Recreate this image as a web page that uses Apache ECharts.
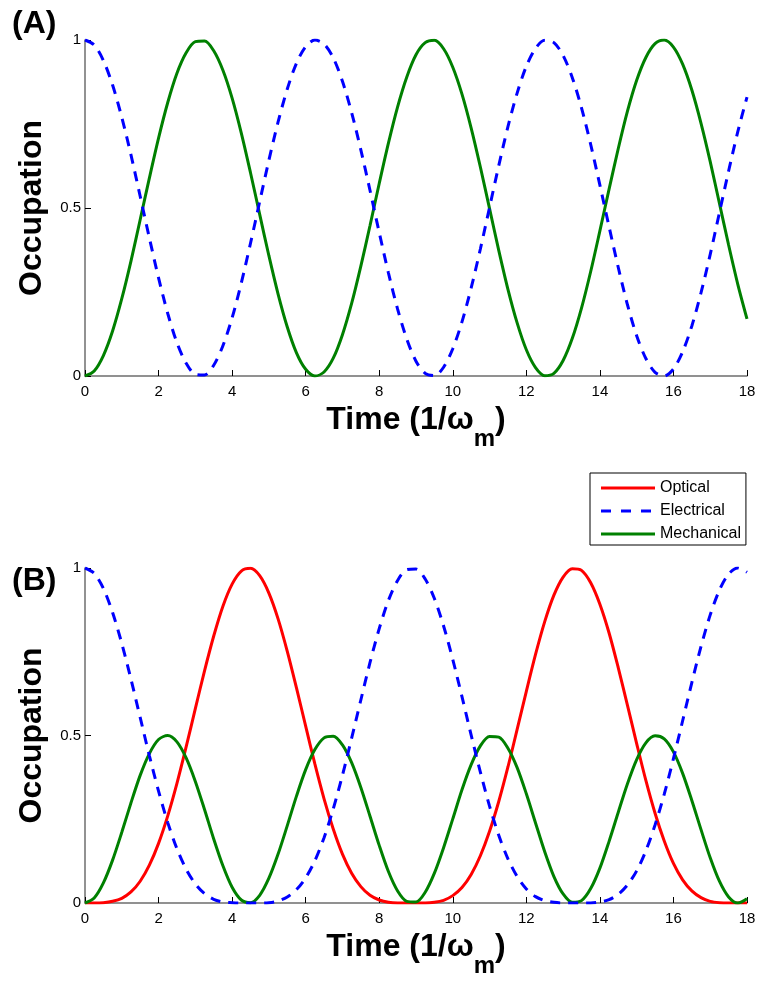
<!DOCTYPE html>
<html>
<head>
<meta charset="utf-8">
<script src="https://cdn.jsdelivr.net/npm/echarts@6/dist/echarts.min.js"></script>
<style>
html,body{margin:0;padding:0;background:#fff;}
#c{width:757px;height:982px;}
</style>
</head>
<body>
<div id="c"></div>
<script>
// Time samples (1/omega_m), step 0.25
const T = [0,0.25,0.5,0.75,1,1.25,1.5,1.75,2,2.25,2.5,2.75,3,3.25,3.5,3.75,4,4.25,4.5,4.75,5,5.25,5.5,5.75,6,6.25,6.5,6.75,7,7.25,7.5,7.75,8,8.25,8.5,8.75,9,9.25,9.5,9.75,10,10.25,10.5,10.75,11,11.25,11.5,11.75,12,12.25,12.5,12.75,13,13.25,13.5,13.75,14,14.25,14.5,14.75,15,15.25,15.5,15.75,16,16.25,16.5,16.75,17,17.25,17.5,17.75,18];

// Panel (A)
const elecA = [1.000,0.985,0.939,0.866,0.770,0.658,0.535,0.411,0.292,0.186,0.099,0.038,0.005,0.003,0.032,0.090,0.173,0.277,0.395,0.519,0.642,0.756,0.854,0.931,0.980,1.000,0.988,0.947,0.877,0.784,0.673,0.552,0.427,0.307,0.199,0.110,0.044,0.008,0.001,0.026,0.081,0.161,0.262,0.378,0.502,0.626,0.742,0.842,0.922,0.975,0.999,0.992,0.954,0.888,0.798,0.689,0.568,0.444,0.323,0.212,0.120,0.052,0.011,0.000,0.021,0.072,0.149,0.248,0.362,0.486,0.610,0.727,0.830];
const mechA = [0.000,0.015,0.061,0.134,0.230,0.342,0.465,0.589,0.708,0.814,0.901,0.962,0.995,0.997,0.968,0.910,0.827,0.723,0.605,0.481,0.358,0.244,0.146,0.069,0.020,0.000,0.012,0.053,0.123,0.216,0.327,0.448,0.573,0.693,0.801,0.890,0.956,0.992,0.999,0.974,0.919,0.839,0.738,0.622,0.498,0.374,0.258,0.158,0.078,0.025,0.001,0.008,0.046,0.112,0.202,0.311,0.432,0.556,0.677,0.788,0.880,0.948,0.989,1.000,0.979,0.928,0.851,0.752,0.638,0.514,0.390,0.273,0.170];

// Panel (B)
const optB  = [0.000,0.000,0.001,0.005,0.014,0.033,0.065,0.113,0.178,0.260,0.357,0.466,0.580,0.693,0.797,0.886,0.952,0.991,0.999,0.977,0.925,0.848,0.751,0.642,0.528,0.415,0.311,0.221,0.146,0.089,0.049,0.023,0.009,0.002,0.000,0.000,0.000,0.000,0.002,0.008,0.022,0.046,0.085,0.141,0.214,0.303,0.406,0.518,0.632,0.742,0.840,0.919,0.973,0.998,0.993,0.956,0.892,0.806,0.702,0.590,0.476,0.366,0.268,0.185,0.118,0.069,0.036,0.016,0.005,0.001,0.000,0.000,0.000];
const elecB = [1.000,0.984,0.939,0.867,0.775,0.668,0.554,0.440,0.334,0.240,0.162,0.101,0.057,0.028,0.011,0.003,0.001,0.000,0.000,0.000,0.001,0.006,0.018,0.040,0.075,0.126,0.195,0.281,0.381,0.492,0.606,0.718,0.819,0.903,0.963,0.995,0.997,0.967,0.909,0.827,0.727,0.616,0.501,0.391,0.289,0.202,0.132,0.079,0.042,0.019,0.007,0.002,0.000,0.000,0.000,0.000,0.003,0.010,0.026,0.054,0.096,0.156,0.233,0.325,0.431,0.544,0.658,0.766,0.860,0.934,0.982,1.000,0.987];
const mechB = [0.000,0.015,0.060,0.128,0.211,0.299,0.381,0.446,0.488,0.500,0.481,0.433,0.363,0.279,0.191,0.111,0.047,0.009,0.001,0.023,0.074,0.146,0.231,0.319,0.398,0.458,0.493,0.498,0.472,0.419,0.345,0.259,0.172,0.094,0.036,0.005,0.003,0.032,0.089,0.165,0.251,0.338,0.413,0.469,0.497,0.495,0.462,0.404,0.326,0.239,0.153,0.079,0.027,0.002,0.007,0.043,0.104,0.184,0.271,0.356,0.428,0.478,0.499,0.490,0.451,0.387,0.306,0.219,0.135,0.065,0.018,0.000,0.013];

const xTicks = [0,2,4,6,8,10,12,14,16,18];
const yTicks = [0,0.5,1];

const names = ['Optical','Electrical','Mechanical'];
const colors = {Optical:'#ff0000', Electrical:'#0000ff', Mechanical:'#008000'};
const icons = {
  Optical:'path://M0,0H54V3H0Z',
  Electrical:'path://M0,0H10V3H0Z M20,0H30V3H20Z M40,0H50V3H40Z M53.9,0H54V0.01H53.9Z',
  Mechanical:'path://M0,0H54V3H0Z'
};

function pairs(vals){ return T.map((t,i)=>[t, vals[i]]); }

const FONT = '"Liberation Sans", Arial, sans-serif';
const axisCol = '#6e6e6e';

function xAx(gi){
  return {
    gridIndex: gi, type:'value', min:0, max:18, interval:2,
    axisLine:{show:true, onZero:false, lineStyle:{color:axisCol, width:1.5}},
    axisTick:{show:true, inside:true, length:6, lineStyle:{color:'#000', width:1}},
    axisLabel:{color:'#000', fontSize:15, fontFamily:FONT, margin:8,
      formatter:v=> xTicks.includes(v) ? String(v) : ''},
    splitLine:{show:false},
    name:'{a|Time (1/ω}{s|m}{a|)}',
    nameLocation:'middle', nameGap:27, nameMoveOverlap:false,
    nameTextStyle:{rich:{
      a:{fontSize:32, fontWeight:'bold', fontFamily:FONT, color:'#000', lineHeight:34},
      s:{fontSize:24, fontWeight:'bold', fontFamily:FONT, color:'#000', lineHeight:34, padding:[38,0,0,0]}
    }}
  };
}
function yAx(gi){
  return {
    gridIndex: gi, type:'value', min:0, max:1, interval:0.5,
    axisLine:{show:true, onZero:false, lineStyle:{color:axisCol, width:1.5}},
    axisTick:{show:true, inside:true, length:6, lineStyle:{color:'#000', width:1}},
    axisLabel:{color:'#000', fontSize:15, fontFamily:FONT, margin:4,
      formatter:v=> yTicks.includes(v) ? String(v) : ''},
    splitLine:{show:false},
    name:'Occupation', nameLocation:'middle', nameGap:37, nameMoveOverlap:false,
    nameTextStyle:{fontSize:32, fontWeight:'bold', fontFamily:FONT, color:'#000'}
  };
}
function ser(name, vals, gi){
  const dashed = name==='Electrical';
  return {
    name, type:'line', xAxisIndex:gi, yAxisIndex:gi, data:pairs(vals),
    smooth:0.3, showSymbol:false, symbol:'none', animation:false,
    color: colors[name],
    lineStyle:{color:colors[name], width:3, type: dashed ? [10,8] : 'solid'},
    z: name==='Electrical' ? 3 : 2
  };
}

const chart = echarts.init(document.getElementById('c'), null, {renderer:'canvas'});
chart.setOption({
  backgroundColor:'#fff',
  animation:false,
  grid:[
    {left:85, top:40, width:662, height:336, outerBoundsMode:'none', containLabel:false},
    {left:85, top:568, width:662, height:335, outerBoundsMode:'none', containLabel:false}
  ],
  xAxis:[xAx(0), xAx(1)],
  yAxis:[yAx(0), yAx(1)],
  legend:{
    data:names.map(n=>({name:n, icon:icons[n]})),
    orient:'vertical', left:590, top:473,
    backgroundColor:'#fff', borderColor:'#000', borderWidth:1, borderRadius:0,
    padding:[6,5,2,11], itemGap:5, itemWidth:54, itemHeight:3,
    textStyle:{fontSize:16, fontFamily:FONT, color:'#000', lineHeight:18}
  },
  graphic:[
    {type:'text', left:12, top:8, style:{text:'(A)', fontSize:32, fontWeight:'bold', fontFamily:FONT, fill:'#000'}},
    {type:'text', left:12, top:565, style:{text:'(B)', fontSize:32, fontWeight:'bold', fontFamily:FONT, fill:'#000'}}
  ],
  series:[
    ser('Electrical', elecA, 0),
    ser('Mechanical', mechA, 0),
    ser('Optical', optB, 1),
    ser('Electrical', elecB, 1),
    ser('Mechanical', mechB, 1)
  ]
});
</script>
</body>
</html>
